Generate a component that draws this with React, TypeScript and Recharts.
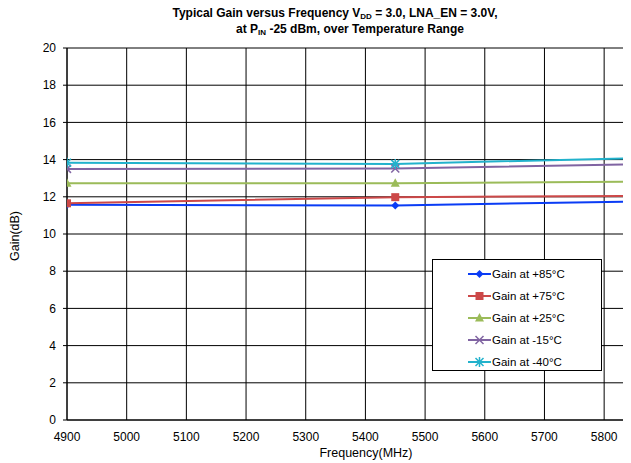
import React from 'react';
import { LineChart, Line, XAxis, YAxis, CartesianGrid, Legend } from 'recharts';

// frequency points (MHz) where the measurements were taken
const freqs = [4900, 5450, 5850];

// gain (dB) per temperature
const gain85 = [11.57, 11.53, 11.75];
const gain75 = [11.65, 11.98, 12.05];
const gain25 = [12.73, 12.73, 12.82];
const gainM15 = [13.5, 13.52, 13.75];
const gainM40 = [13.83, 13.77, 14.08];

const xTicks = [4900, 5000, 5100, 5200, 5300, 5400, 5500, 5600, 5700, 5800];
const yTicks = [0, 2, 4, 6, 8, 10, 12, 14, 16, 18, 20];
const xMinorTicks = Array.from({ length: 19 }, (_, i) => 4900 + i * 50);
const yMinorTicks = Array.from({ length: 51 }, (_, i) => Math.round(i * 4) / 10);

const series = [
  { key: 'g85', name: 'Gain at +85°C', color: '#0a3cf5', shape: 'diamond', values: gain85 },
  { key: 'g75', name: 'Gain at +75°C', color: '#cc4848', shape: 'square', values: gain75 },
  { key: 'g25', name: 'Gain at +25°C', color: '#9bbb59', shape: 'triangle', values: gain25 },
  { key: 'gm15', name: 'Gain at -15°C', color: '#8064a2', shape: 'x', values: gainM15 },
  { key: 'gm40', name: 'Gain at -40°C', color: '#22b2cc', shape: 'star', values: gainM40 },
];

const data = freqs.map((f, i) => {
  const row: Record<string, number> = { freq: f };
  series.forEach((s) => (row[s.key] = s.values[i]));
  return row;
});

const FONT = 'Arial, "Liberation Sans", sans-serif';

function Marker({ cx, cy, shape, color }: { cx: number; cy: number; shape: string; color: string }) {
  if (cx == null || cy == null) return null;
  switch (shape) {
    case 'diamond':
      return <path d={`M${cx},${cy - 4}L${cx + 4},${cy}L${cx},${cy + 4}L${cx - 4},${cy}Z`} fill={color} />;
    case 'square':
      return <rect x={cx - 4} y={cy - 4} width={8} height={8} fill={color} />;
    case 'triangle':
      return <path d={`M${cx},${cy - 5}L${cx + 4.5},${cy + 3.5}L${cx - 4.5},${cy + 3.5}Z`} fill={color} />;
    case 'x':
      return (
        <path d={`M${cx - 4},${cy - 4}L${cx + 4},${cy + 4}M${cx - 4},${cy + 4}L${cx + 4},${cy - 4}`} stroke={color} strokeWidth={1.5} />
      );
    default:
      return (
        <path
          d={`M${cx - 4},${cy - 4}L${cx + 4},${cy + 4}M${cx - 4},${cy + 4}L${cx + 4},${cy - 4}M${cx},${cy - 5}L${cx},${cy + 5}`}
          stroke={color}
          strokeWidth={1.5}
        />
      );
  }
}

function LegendBox() {
  return (
    <div
      style={{
        width: 170,
        height: 112,
        boxSizing: 'border-box',
        border: '1px solid #000',
        background: '#fff',
        fontFamily: FONT,
        fontSize: 11.5,
        paddingTop: 3,
      }}
    >
      {series.map((s) => (
        <div key={s.key} style={{ display: 'flex', alignItems: 'center', height: 22, paddingLeft: 35 }}>
          <svg width={23} height={12} style={{ display: 'block' }}>
            <line x1={0} y1={6} x2={23} y2={6} stroke={s.color} strokeWidth={2} />
            <Marker cx={11.5} cy={6} shape={s.shape} color={s.color} />
          </svg>
          <span style={{ marginLeft: 1 }}>{s.name}</span>
        </div>
      ))}
    </div>
  );
}

const titleStyle: React.CSSProperties = {
  position: 'absolute',
  transform: 'translateX(-50%)',
  whiteSpace: 'nowrap',
  fontWeight: 'bold',
  fontSize: 12,
  lineHeight: '14px',
};
const subStyle: React.CSSProperties = { fontSize: 8, position: 'relative', top: 2 };

export default function App() {
  return (
    <div style={{ position: 'relative', width: 623, height: 455, fontFamily: FONT, color: '#000' }}>
      <div style={{ ...titleStyle, left: 327, top: -2 }}>
        Typical Gain versus Frequency V<span style={subStyle}>DD</span> = 3.0, LNA_EN = 3.0V,
      </div>
      <div style={{ ...titleStyle, left: 342, top: 14 }}>
        at P<span style={subStyle}>IN</span> -25 dBm, over Temperature Range
      </div>

      <LineChart width={623} height={455} data={data} margin={{ top: 40, right: 0, bottom: 0, left: 0 }}>
        <CartesianGrid stroke="#000" strokeWidth={1} />
        <XAxis
          dataKey="freq"
          type="number"
          domain={[4900, 5845]}
          allowDataOverflow
          ticks={xTicks}
          height={43}
          tickLine={false}
          tickMargin={6}
          axisLine={{ stroke: '#000' }}
          tick={{ fill: '#000', fontSize: 12, fontFamily: FONT }}
        />
        <XAxis
          xAxisId="minor"
          dataKey="freq"
          type="number"
          domain={[4900, 5845]}
          allowDataOverflow
          ticks={xMinorTicks}
          height={0}
          mirror
          tick={false}
          tickSize={3}
          axisLine={false}
          tickLine={{ stroke: '#000' }}
        />
        <YAxis
          domain={[0, 20]}
          ticks={yTicks}
          width={59}
          tickSize={4}
          tickMargin={7}
          axisLine={{ stroke: '#000' }}
          tickLine={{ stroke: '#000' }}
          tick={{ fill: '#000', fontSize: 12, fontFamily: FONT }}
        />
        <YAxis
          yAxisId="minor"
          domain={[0, 20]}
          ticks={yMinorTicks}
          width={0}
          mirror
          tick={false}
          tickSize={3}
          axisLine={false}
          tickLine={{ stroke: '#000' }}
        />
        {series.map((s) => (
          <Line
            key={s.key}
            dataKey={s.key}
            name={s.name}
            stroke={s.color}
            strokeWidth={2}
            type="linear"
            isAnimationActive={false}
            dot={(p: any) => <Marker key={`${s.key}-${p.index}`} cx={p.cx} cy={p.cy} shape={s.shape} color={s.color} />}
            activeDot={false}
          />
        ))}
        <Legend
          layout="vertical"
          align="center"
          verticalAlign="middle"
          content={() => <LegendBox />}
          wrapperStyle={{ left: 424, top: 251, width: 170 }}
        />
      </LineChart>

      <div
        style={{
          position: 'absolute',
          left: 7,
          top: 228,
          transform: 'translate(-50%, -50%) rotate(-90deg)',
          whiteSpace: 'nowrap',
          fontSize: 12.5,
        }}
      >
        Gain(dB)
      </div>
      <div
        style={{
          position: 'absolute',
          left: 358,
          top: 445,
          transform: 'translate(-50%, -50%)',
          whiteSpace: 'nowrap',
          fontSize: 12.5,
        }}
      >
        Frequency(MHz)
      </div>
    </div>
  );
}
